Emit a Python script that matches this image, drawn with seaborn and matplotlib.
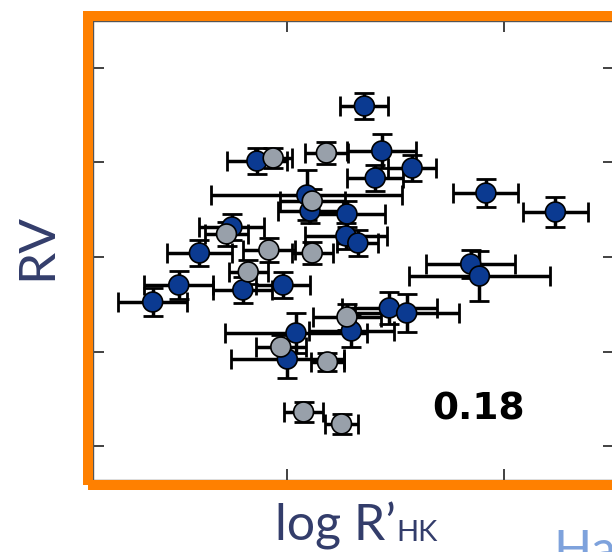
import numpy as np
import pandas as pd
import seaborn as sns
import matplotlib
matplotlib.use("Agg")
import matplotlib.pyplot as plt
from matplotlib.patches import Rectangle

# data (log R'HK in dex, RV in m/s)
blue_x = [-4.929, -5.028, -4.913, -4.885, -4.919, -4.817, -4.753, -4.982, -4.979,
          -4.945, -4.946, -4.935, -5.051, -5.081, -5.100, -5.124, -5.041, -5.004,
          -4.831, -4.823, -4.906, -4.890, -4.941, -4.992, -5.000]
blue_y = [15.94, 10.13, 11.19, 9.39, 8.34, 6.75, 4.75, 6.54, 4.85,
          4.54, 2.22, 1.48, 3.17, 0.42, -2.96, -4.75, -3.48, -2.96,
          -0.74, -2.01, -5.38, -5.91, -7.81, -8.02, -10.77]
blue_xerr = [0.022, 0.028, 0.032, 0.022, 0.026, 0.030, 0.030, 0.088, 0.030,
             0.035, 0.038, 0.019, 0.030, 0.030, 0.032, 0.032, 0.027, 0.025,
             0.041, 0.065, 0.044, 0.048, 0.039, 0.065, 0.052]
blue_yerr = [1.37, 1.37, 1.79, 1.37, 1.37, 1.48, 1.58, 2.6, 1.27,
             1.37, 1.37, 1.37, 1.37, 1.37, 1.48, 1.48, 1.37, 1.37,
             1.48, 2.64, 1.69, 2.0, 1.69, 2.1, 2.0]

grey_x = [-5.013, -4.964, -4.977, -5.056, -5.017, -4.977, -5.036, -4.945,
          -5.006, -4.963, -4.985, -4.950]
grey_y = [10.45, 10.98, 5.91, 2.43, 0.74, 0.42, -1.58, -6.33,
          -9.50, -11.08, -16.36, -17.62]
grey_xerr = [0.017, 0.020, 0.030, 0.020, 0.024, 0.019, 0.018, 0.031,
             0.023, 0.015, 0.018, 0.015]
grey_yerr = [1.06, 1.16, 1.27, 1.27, 1.27, 1.16, 1.27, 1.37,
             1.27, 0.95, 1.06, 1.06]

x_ticks = [-5.0, -4.8]
y_ticks = [-20, -10, 0, 10, 20]
corr_text = "0.18"

df = pd.DataFrame({
    "logRHK": blue_x + grey_x,
    "RV": blue_y + grey_y,
    "xerr": blue_xerr + grey_xerr,
    "yerr": blue_yerr + grey_yerr,
    "set": ["blue"] * len(blue_x) + ["grey"] * len(grey_x),
})

sns.set_style("white")
plt.rcParams["font.family"] = ["Lato", "DejaVu Sans"]

fig = plt.figure(figsize=(6.12, 5.52), dpi=100)
ax = fig.add_axes([93 / 612, 1 - 480 / 552, 521 / 612, 459 / 552])

ax.errorbar(df["logRHK"], df["RV"], xerr=df["xerr"], yerr=df["yerr"],
            fmt="none", ecolor="black", elinewidth=2.5, capsize=7,
            capthick=2.0, zorder=2)
sns.scatterplot(data=df, x="logRHK", y="RV", hue="set",
                palette={"blue": "#0b3a91", "grey": "#98a0aa"},
                s=205, edgecolor="black", linewidth=1.2, legend=False,
                zorder=3, ax=ax)

ax.set_xlim(-5.179, -4.699)
ax.set_ylim(-23.54, 24.91)
ax.set_xticks(x_ticks)
ax.set_yticks(y_ticks)
ax.tick_params(direction="in", length=8, width=1.3, color="#333333",
               left=True, bottom=True, top=True, right=True,
               labelbottom=False, labelleft=False)
ax.set_xlabel("")
ax.set_ylabel("")
for sp in ax.spines.values():
    sp.set_color("#555555")
    sp.set_linewidth(1.0)

fig.text(479 / 612, 1 - 409 / 552, corr_text, ha="center", va="center",
         fontsize=27, fontweight="bold", family="DejaVu Sans", color="black")

# orange frame around the panel
fig.patches.append(Rectangle((88 / 612, 1 - 485 / 552), 540 / 612, 469.5 / 552,
                             transform=fig.transFigure, fill=False,
                             edgecolor="#ff8000", linewidth=7.2, zorder=10))

navy = "#333d6b"
fig.text(60 / 612, 1 - 247 / 552, "RV", rotation=90, ha="right", va="center",
         fontsize=37, color=navy)
fig.text(275 / 612, 1 - 540 / 552, "log R’", ha="left", va="baseline",
         fontsize=36, color=navy)
fig.text(396 / 612, 1 - 541 / 552, "HK", ha="left", va="baseline",
         fontsize=21, color=navy)
fig.text(553 / 612, 1 - 529 / 552, "Ha", ha="left", va="top",
         fontsize=36, color="#7ea2dc")

fig.savefig("out.png", dpi=100)
